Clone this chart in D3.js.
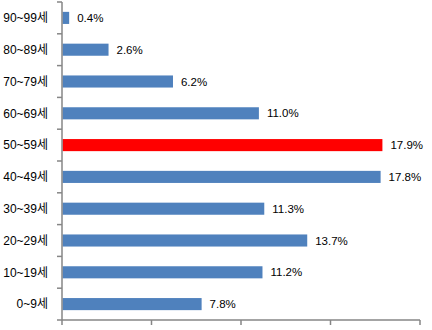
<!DOCTYPE html>
<html><head><meta charset="utf-8">
<script src="https://cdn.jsdelivr.net/npm/d3@7"></script>
<style>body{margin:0;background:#fff}svg{display:block}</style>
</head><body>
<svg id="c" width="432" height="330"></svg>
<script>
const categories = ["90~99세","80~89세","70~79세","60~69세","50~59세","40~49세","30~39세","20~29세","10~19세","0~9세"];
const values = [0.4,2.6,6.2,11.0,17.9,17.8,11.3,13.7,11.2,7.8];
const labels = ["0.4%","2.6%","6.2%","11.0%","17.9%","17.8%","11.3%","13.7%","11.2%","7.8%"];
const highlight = ["50~59세"];
const xTicks = [0,5,10,15,20];

const svg = d3.select("#c");
const x = d3.scaleLinear().domain([0,20]).range([62,420]);
const y = d3.scaleBand().domain(categories).range([2,320]).paddingInner(0.62).paddingOuter(0.31);
const font = "'Liberation Sans', 'Noto Sans CJK KR', sans-serif";

svg.selectAll("rect.bar").data(categories).join("rect")
  .attr("x", x(0)+0.5).attr("y", d=>y(d))
  .attr("width", (d,i)=>x(values[i])-x(0)-0.5).attr("height", y.bandwidth())
  .attr("fill", d=>highlight.includes(d)?"#FF0000":"#4F81BD");

svg.selectAll("text.val").data(categories).join("text")
  .attr("x",(d,i)=>x(values[i])+8).attr("y",d=>y(d)+y.bandwidth()/2)
  .attr("dy","0.35em").attr("font-family",font).attr("font-size",11.5).attr("fill","#000")
  .text((d,i)=>labels[i]);

// left axis
const yAxisBand = d3.scaleBand().domain(categories).range([2,320]);
const ga = svg.append("g");
ga.append("line").attr("x1",62).attr("x2",62).attr("y1",2).attr("y2",320).attr("stroke","#868686").attr("stroke-width",1.5);
ga.selectAll("line.t").data(d3.range(categories.length+1)).join("line")
  .attr("x1",57).attr("x2",62).attr("y1",i=>2+i*yAxisBand.step()).attr("y2",i=>2+i*yAxisBand.step())
  .attr("stroke","#868686").attr("stroke-width",1.5);
ga.selectAll("text").data(categories).join("text")
  .attr("x",48).attr("y",d=>y(d)+y.bandwidth()/2).attr("dy","0.35em").attr("text-anchor","end")
  .attr("font-family",font).attr("font-size",12).attr("fill","#000").text(d=>d);

// bottom axis
const gb = svg.append("g");
gb.append("line").attr("x1",62).attr("x2",420).attr("y1",320).attr("y2",320).attr("stroke","#868686").attr("stroke-width",1.5);
gb.selectAll("line.t").data(xTicks).join("line")
  .attr("x1",d=>x(d)).attr("x2",d=>x(d)).attr("y1",320).attr("y2",325)
  .attr("stroke","#868686").attr("stroke-width",1.5);
</script>
</body></html>
